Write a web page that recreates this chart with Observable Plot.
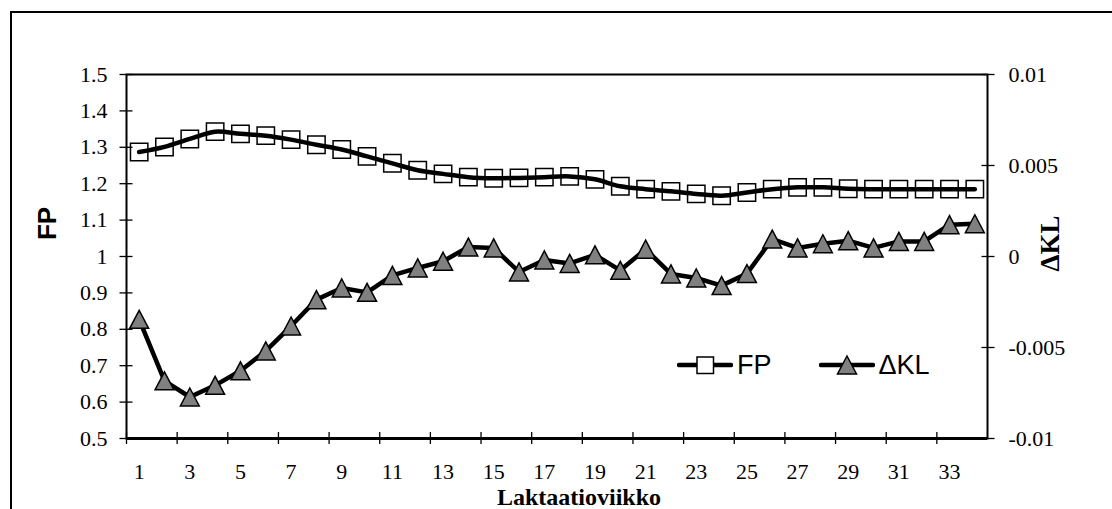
<!DOCTYPE html>
<html><head><meta charset="utf-8">
<script src="https://cdn.jsdelivr.net/npm/d3@7"></script>
<script src="https://cdn.jsdelivr.net/npm/@observablehq/plot@0.6"></script>
<style>
html,body{margin:0;padding:0;background:#fff;overflow:hidden;width:1112px;height:509px}
#wrap{position:relative;width:1112px;height:509px;overflow:hidden}
#outer{position:absolute;left:10px;top:11px;width:1200px;height:600px;border-left:2px solid #000;border-top:2px solid #000}
#chart{position:absolute;left:0;top:0}
#legend{position:absolute;left:677px;top:351px;height:28px;display:flex;align-items:center;font-family:"Liberation Sans",Arial,sans-serif;font-size:27px;color:#000}
#legend span{display:inline-block;line-height:28px}
#legend svg{display:block}
</style></head>
<body><div id="wrap"><div id="outer"></div><div id="chart"></div><div id="legend"></div></div>
<script>
// ---- data ----
const weeks = d3.range(1, 35);
const fp = [1.287, 1.301, 1.323, 1.343, 1.337, 1.332, 1.321, 1.307, 1.294, 1.275,
            1.256, 1.237, 1.227, 1.218, 1.215, 1.216, 1.218, 1.220, 1.212, 1.193,
            1.185, 1.179, 1.172, 1.167, 1.176, 1.185, 1.190, 1.190, 1.186, 1.185,
            1.185, 1.185, 1.185, 1.185];
const dkl = [-0.00345, -0.00683, -0.00772, -0.00708, -0.00628, -0.00519, -0.00382, -0.00237, -0.00173, -0.00197,
             -0.00104, -0.00063, -0.00026, 0.00052, 0.00047, -0.00085, -0.00019, -0.00038, 0.00009, -0.00076,
             0.00040, -0.00096, -0.00118, -0.00160, -0.00094, 0.00096, 0.00047, 0.00070, 0.00087, 0.00047,
             0.00083, 0.00083, 0.00175, 0.00180];
const leftTicks = [0.5, 0.6, 0.7, 0.8, 0.9, 1.0, 1.1, 1.2, 1.3, 1.4, 1.5];
const rightTicks = [-0.01, -0.005, 0, 0.005, 0.01];
const xTickLabels = [1, 3, 5, 7, 9, 11, 13, 15, 17, 19, 21, 23, 25, 27, 29, 31, 33];
const seriesNames = ["FP", "\u0394KL"];
const xTitle = "Laktaatioviikko";

// right axis (ΔKL) mapped onto the left (FP) scale: -0.01 -> 0.5, 0.01 -> 1.5
const kl2fp = v => 1 + v * 50;
const fp2kl = v => (v - 1) / 50;

const dataFP = weeks.map((w, i) => ({week: w, v: fp[i]}));
const dataKL = weeks.map((w, i) => ({week: w, v: kl2fp(dkl[i])}));
const xTickMarks = xTickLabels.map(d => d - 0.5);

const squareSym = {draw(ctx, size) {
  const h = Math.sqrt(size / Math.PI);
  ctx.moveTo(-h, -h); ctx.lineTo(h, -h); ctx.lineTo(h, h); ctx.lineTo(-h, h); ctx.closePath();
}};
const triSym = {draw(ctx, size) {
  const h = Math.sqrt(size / Math.PI);
  const w = h * 1.05;
  ctx.moveTo(0, -h); ctx.lineTo(w, h); ctx.lineTo(-w, h); ctx.closePath();
}};

const serif = "'Liberation Serif','Times New Roman',serif";
const sans = "'Liberation Sans',Arial,sans-serif";

const chart = Plot.plot({
  width: 1112,
  height: 509,
  marginLeft: 126,
  marginRight: 125,
  marginTop: 74,
  marginBottom: 71,
  style: {fontFamily: serif, fontSize: "22px", color: "#000", background: "transparent", overflow: "visible"},
  x: {domain: [0.5, 34.5], axis: null},
  y: {domain: [0.5, 1.5], axis: null},
  marks: [
    Plot.frame({stroke: "#000", strokeWidth: 2}),
    Plot.ruleY([0.5], {stroke: "#000", strokeWidth: 3}),
    // left axis
    Plot.axisY({anchor: "left", ticks: leftTicks, tickSize: 13, dx: 6.5, strokeWidth: 1.3, tickFormat: () => "", label: null}),
    Plot.axisY({anchor: "left", ticks: leftTicks, tickSize: 0, tickPadding: 19, fontSize: 22,
      tickFormat: d => String(+d.toFixed(1)), label: null}),
    // right axis
    Plot.axisY({anchor: "right", ticks: rightTicks.map(kl2fp), tickSize: 13, dx: -6.5, strokeWidth: 1.3, tickFormat: () => "", label: null}),
    Plot.axisY({anchor: "right", ticks: rightTicks.map(kl2fp), tickSize: 0, tickPadding: 21, fontSize: 22,
      tickFormat: d => String(+fp2kl(d).toFixed(3)), label: null}),
    // bottom axis
    Plot.axisX({anchor: "bottom", ticks: xTickMarks, tickSize: 12, dy: -6, strokeWidth: 1.3, tickFormat: () => "", label: null}),
    Plot.axisX({anchor: "bottom", ticks: xTickLabels, tickSize: 0, tickPadding: 25, fontSize: 22,
      tickFormat: d => String(d), label: null}),
    // titles
    Plot.text([seriesNames[0]], {text: d => d, frameAnchor: "left", textAnchor: "middle", lineAnchor: "middle",
      dx: -79, dy: -33, rotate: -90, fontFamily: sans, fontWeight: "bold", fontSize: 26}),
    Plot.text([seriesNames[1]], {text: d => d, frameAnchor: "right", textAnchor: "middle", lineAnchor: "middle",
      dx: 63, dy: -13, rotate: -90, fontFamily: serif, fontWeight: "bold", fontSize: 27}),
    Plot.text([xTitle], {text: d => d, frameAnchor: "bottom", dx: 22, dy: 66,
      fontFamily: serif, fontWeight: "bold", fontSize: 24}),
    // FP series
    Plot.dot(dataFP, {x: "week", y: "v", symbol: squareSym, r: 8.7, fill: "none", stroke: "#000", strokeWidth: 1.5}),
    Plot.line(dataFP, {x: "week", y: "v", curve: "catmull-rom", stroke: "#000", strokeWidth: 4.5, strokeLinecap: "round"}),
    // ΔKL series
    Plot.line(dataKL, {x: "week", y: "v", stroke: "#000", strokeWidth: 4.5, strokeLinejoin: "round", strokeLinecap: "round"}),
    Plot.dot(dataKL, {x: "week", y: "v", symbol: triSym, r: 9, fill: "#808080", stroke: "#000", strokeWidth: 1.5})
  ]
});
document.getElementById("chart").appendChild(chart);

// legend
const legend = d3.select("#legend");
function item(name, kind, gapAfter) {
  const svg = legend.append("svg").attr("width", 56).attr("height", 28);
  svg.append("line").attr("x1", 2).attr("x2", 54).attr("y1", 14).attr("y2", 14)
    .attr("stroke", "#000").attr("stroke-width", 4.5).attr("stroke-linecap", "round");
  if (kind === "square") {
    svg.append("rect").attr("x", 20).attr("y", 6).attr("width", 16.5).attr("height", 16.5)
      .attr("fill", "#fff").attr("stroke", "#000").attr("stroke-width", 1.5);
  } else {
    svg.append("path").attr("d", "M28,5 L37.5,23 L18.5,23 Z")
      .attr("fill", "#808080").attr("stroke", "#000").attr("stroke-width", 1.5);
  }
  legend.append("span").text(name).style("margin-left", "4px").style("margin-right", gapAfter + "px");
}
item(seriesNames[0], "square", 47);
item(seriesNames[1], "tri", 0);
</script>
</body></html>
